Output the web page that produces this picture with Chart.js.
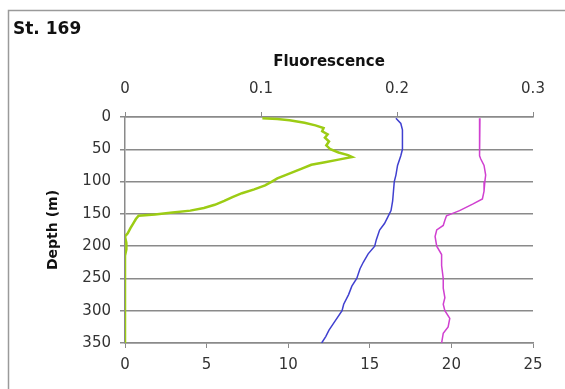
<!DOCTYPE html>
<html lang="en">
<head>
  <meta charset="UTF-8">
  <title>St. 169</title>
  <style>
    body { margin: 0; padding: 0; background: #fff; }
    #wrap { width: 565px; height: 389px; }
  </style>
</head>
<body>
  <div id="wrap"><canvas id="profile" width="565" height="389"></canvas></div>

  <script src="https://cdn.jsdelivr.net/npm/chart.js"></script>
  <script>
    // values (depth in m)
    const fluoDepth = [2, 3, 5, 9, 13, 17, 22, 27, 32, 38, 44, 50, 55, 59, 62, 66, 70, 74, 80, 85, 90, 95, 100, 106, 112, 118, 124, 130, 136, 141, 145, 148, 151, 153, 158, 165, 172, 180, 185, 195, 205, 215, 350];
    const fluoValue = [0.101, 0.112, 0.121, 0.132, 0.140, 0.146, 0.145, 0.149, 0.147, 0.150, 0.148, 0.151, 0.157, 0.164, 0.167, 0.157, 0.147, 0.137, 0.130, 0.124, 0.118, 0.112, 0.108, 0.103, 0.095, 0.086, 0.079, 0.073, 0.066, 0.058, 0.048, 0.035, 0.022, 0.010, 0.008, 0.006, 0.004, 0.002, 0.000, 0.001, 0.001, 0.000, 0.000];

    const blueDepth = [2, 10, 20, 50, 60, 75, 90, 100, 115, 130, 145, 155, 165, 175, 190, 200, 212, 225, 235, 250, 262, 275, 290, 300, 315, 330, 340, 350];
    const blueValue = [16.6, 16.9, 17.0, 17.0, 16.9, 16.7, 16.6, 16.5, 16.45, 16.4, 16.3, 16.1, 15.9, 15.6, 15.4, 15.3, 14.9, 14.6, 14.4, 14.2, 13.9, 13.7, 13.4, 13.3, 12.9, 12.5, 12.3, 12.05];

    const pinkDepth = [2, 50, 60, 65, 75, 90, 100, 115, 127, 135, 140, 145, 150, 153, 160, 168, 175, 185, 200, 213, 230, 250, 265, 280, 290, 300, 312, 325, 335, 350];
    const pinkValue = [21.75, 21.75, 21.7, 21.8, 22.0, 22.1, 22.05, 22.0, 21.9, 21.3, 20.9, 20.5, 20.0, 19.7, 19.6, 19.5, 19.1, 19.0, 19.1, 19.4, 19.4, 19.5, 19.5, 19.6, 19.5, 19.6, 19.9, 19.8, 19.5, 19.4];

    const depthTicks = [0, 50, 100, 150, 200, 250, 300, 350];

    const toPts = (xs, ys) => xs.map((d, i) => ({ x: ys[i], y: d }));

    const gray = '#8a8a8a';
    const tickFont = { family: 'DejaVu Sans', size: 15 };

    // frame + station label
    const framePlugin = {
      id: 'frame',
      beforeDraw(chart) {
        const ctx = chart.ctx;
        ctx.save();
        ctx.fillStyle = '#fff';
        ctx.fillRect(0, 0, chart.width, chart.height);
        ctx.strokeStyle = '#9a9a9a';
        ctx.lineWidth = 1.5;
        ctx.beginPath();
        ctx.moveTo(8.5, chart.height);
        ctx.lineTo(8.5, 10.5);
        ctx.lineTo(chart.width, 10.5);
        ctx.stroke();
        ctx.fillStyle = '#111';
        ctx.font = 'bold 17px "DejaVu Sans"';
        ctx.textBaseline = 'middle';
        ctx.fillText('St. 169', 13, 30);
        ctx.restore();
      }
    };

    new Chart(document.getElementById('profile').getContext('2d'), {
      type: 'scatter',
      data: {
        datasets: [
          { label: 'Fluorescence', data: toPts(fluoDepth, fluoValue), xAxisID: 'x2',
            showLine: true, borderColor: '#9ccc14', borderWidth: 2.5, pointRadius: 0 },
          { label: 'blue', data: toPts(blueDepth, blueValue), xAxisID: 'x',
            showLine: true, borderColor: '#4040d0', borderWidth: 1.5, pointRadius: 0 },
          { label: 'magenta', data: toPts(pinkDepth, pinkValue), xAxisID: 'x',
            showLine: true, borderColor: '#d040d0', borderWidth: 1.5, pointRadius: 0 }
        ]
      },
      options: {
        responsive: false,
        animation: false,
        layout: { padding: { left: 0, right: 32, top: 0, bottom: 0 } },
        plugins: { legend: { display: false }, tooltip: { enabled: false } },
        scales: {
          y: {
            reverse: true, min: 0, max: 350,
            afterBuildTicks: s => { s.ticks = depthTicks.map(v => ({ value: v })); },
            afterFit: s => { s.width = 125; },
            ticks: { font: tickFont, color: '#333', padding: 9 },
            grid: { color: gray, lineWidth: 1.5, tickLength: 5, drawTicks: true },
            border: { color: gray, width: 1.5 },
            title: { display: true, text: 'Depth (m)', color: '#111',
              font: { family: 'DejaVu Sans', size: 14, weight: 'bold' }, padding: { top: 45, bottom: 0 } }
          },
          x: {
            position: 'bottom', min: 0, max: 25,
            ticks: { stepSize: 5, font: tickFont, color: '#333', padding: 8 },
            afterFit: s => { s.height = 46; },
            grid: { drawOnChartArea: false, color: gray, tickLength: 5 },
            border: { color: gray, width: 1.5 }
          },
          x2: {
            position: 'top', min: 0, max: 0.3,
            ticks: { stepSize: 0.1, font: tickFont, color: '#333', padding: 14 },
            afterFit: s => { s.height = 117; },
            grid: { drawOnChartArea: false, color: gray, tickLength: 5 },
            border: { color: gray, width: 1.5 },
            title: { display: true, text: 'Fluorescence', color: '#111',
              font: { family: 'DejaVu Sans', size: 15, weight: 'bold' }, padding: { top: 53, bottom: 0 } }
          }
        }
      },
      plugins: [framePlugin]
    });
  </script>
</body>
</html>
